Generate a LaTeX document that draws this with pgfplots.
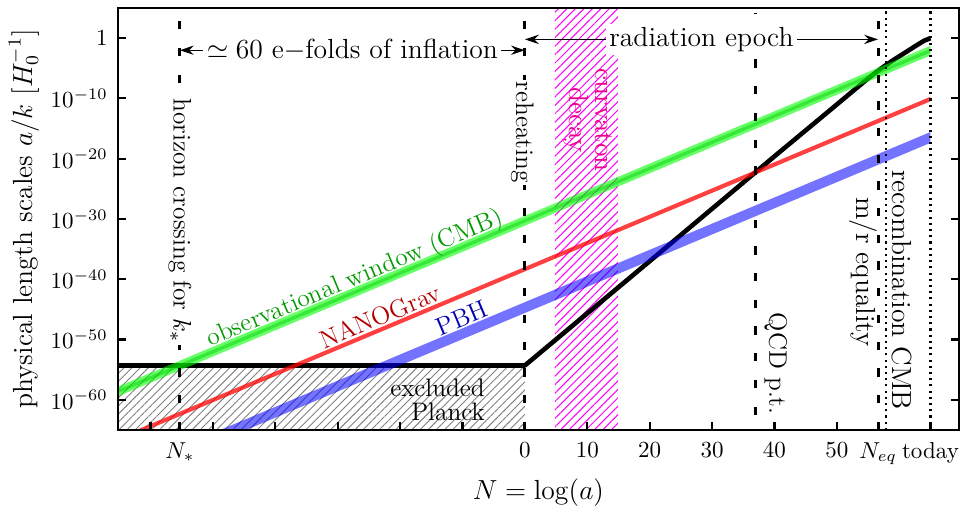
\documentclass[border=0pt]{standalone}
\usepackage{pgfplots}
\pgfplotsset{compat=1.18}
\usetikzlibrary{patterns,patterns.meta,arrows.meta}

% y values are log10 of a/k in units of 1/H0
\begin{document}
\begin{tikzpicture}
\begin{axis}[
  name=ax,
  scale only axis,
  width=365.3pt, height=183.3pt,
  xmin=-65.2, xmax=69.55,
  ymin=-65, ymax=5,
  axis on top,
  axis line style={line width=0.8pt},
  tick style={black, line width=0.9pt},
  major tick length=3.5pt,
  xtick pos=bottom, ytick pos=both,
  xtick={-60,-55.3,-50,-40,-30,-20,-10,0,10,20,30,40,50,56.6,65},
  xticklabels={,$N_*$,,,,,,$0$,$10$,$20$,$30$,$40$,$50$,$N_{eq}$,today},
  ytick={-60,-50,-40,-30,-20,-10,0},
  yticklabels={$10^{-60}$,$10^{-50}$,$10^{-40}$,$10^{-30}$,$10^{-20}$,$10^{-10}$,$1$},
  xticklabel style={yshift=-2pt},
  yticklabel style={xshift=-1pt},
  xlabel={$N=\log(a)$},
  ylabel={physical length scales $a/k$ [$H_0^{-1}$]},
  xlabel style={at={(axis description cs:0.5,-0.114)}, anchor=north, inner sep=0pt, font=\large},
  ylabel style={at={(axis description cs:-0.112,0.5)}, anchor=center, font=\large},
]

% excluded (Planck) and curvaton decay hatches
\addplot[draw=none, pattern={Lines[angle=45,distance=2.5pt,line width=0.4pt]}, pattern color=gray]
  coordinates {(-66,-66) (0,-66) (0,-54.3) (-66,-54.3)} -- cycle;
\addplot[draw=none, pattern={Lines[angle=45,distance=2.6pt,line width=0.45pt]}, pattern color=magenta]
  coordinates {(4.8,-66) (14.9,-66) (14.9,6) (4.8,6)} -- cycle;

% Hubble radius
\addplot[black, line width=2pt, line join=round] coordinates {
  (-66,-54.3) (0,-54.3) (20,-37.0) (40,-19.6) (50,-11.0) (53,-8.40)
  (55,-6.69) (57,-5.09) (59,-3.67) (61,-2.35) (63,-1.04) (64,-0.41) (65,0)};

% scales
\addplot[draw=none, fill=green, fill opacity=0.6]
  coordinates {(-66,-58.16) (65,-1.27) (65,-2.87) (-66,-59.76)} -- cycle;
\addplot[draw=none, fill=green!80!black, fill opacity=0.45]
  coordinates {(-66,-58.66) (65,-1.77) (65,-2.37) (-66,-59.26)} -- cycle;
\addplot[draw=none, fill=red, fill opacity=0.75]
  coordinates {(-66,-66.61) (65,-9.72) (65,-10.47) (-66,-67.36)} -- cycle;
\addplot[draw=none, fill=blue, fill opacity=0.55]
  coordinates {(-66,-72.46) (65,-15.57) (65,-17.37) (-66,-74.26)} -- cycle;

% events
\addplot[black, line width=1.3pt, dash pattern=on 3.6pt off 8pt] coordinates {(-55.3,-65) (-55.3,4.1)};
\addplot[black, line width=1.3pt, dash pattern=on 3.6pt off 8pt] coordinates {(0,-65) (0,5)};
\addplot[black, line width=1.3pt, dash pattern=on 3.6pt off 8pt] coordinates {(37,-62.5) (37,4.1)};
\addplot[black, line width=1.3pt, dash pattern=on 3.6pt off 8pt] coordinates {(56.6,-65) (56.6,4.1)};
\addplot[black, line width=0.9pt, dash pattern=on 0.9pt off 1.8pt] coordinates {(57.85,-65) (57.85,5)};
\addplot[black, line width=0.9pt, dash pattern=on 0.9pt off 1.8pt] coordinates {(65,-65) (65,5)};

\draw[line width=0.5pt, {Stealth[length=6pt,width=4pt]}-{Stealth[length=6pt,width=4pt]}]
  (axis cs:-55.3,-2) -- node[fill=white, inner sep=1.5pt, font=\large] {$\simeq 60$ e$-$folds of inflation} (axis cs:0,-2);
\draw[line width=0.5pt, {Stealth[length=6pt,width=4pt]}-{Stealth[length=6pt,width=4pt]}]
  (axis cs:0,-0.2) -- node[fill=white, inner sep=1.5pt, font=\large] {radiation epoch} (axis cs:56.6,-0.2);

\node[rotate=-90, fill=white, inner sep=1pt, font=\fontsize{11}{13}\selectfont] at (axis cs:-55.3,-30.3) {horizon crossing for $k_*$};
\node[rotate=-90, fill=white, inner sep=1pt, font=\fontsize{11}{13}\selectfont] at (axis cs:-0.4,-15.6) {reheating};
\node[rotate=-90, text=magenta, align=center, font=\fontsize{12}{11.5}\selectfont] at (axis cs:10.1,-13.6) {curvaton\\decay};
\node[rotate=-90, font=\fontsize{11}{13}\selectfont] at (axis cs:40.2,-54.0) {QCD p.t.};
\node[rotate=-90, font=\large] at (axis cs:54.2,-38.8) {m/r equality};
\node[rotate=-90, font=\large] at (axis cs:60.4,-41.8) {recombination CMB};
\node[align=right, font=\fontsize{11}{10.5}\selectfont] at (axis cs:-14,-60) {excluded\\Planck};

\node[rotate=22.8, text=green!60!black, font=\fontsize{11}{13}\selectfont] at (axis cs:-27.2,-39.95) {observational window (CMB)};
\node[rotate=22.8, text=red!70!black, font=\fontsize{11}{13}\selectfont] at (axis cs:-23.2,-46.1) {NANOGrav};
\node[rotate=22.8, text=blue!70!black, font=\fontsize{11}{13}\selectfont] at (axis cs:-10.1,-46.4) {PBH};
\end{axis}
\pgfresetboundingbox
\path[use as bounding box] ([xshift=-51.3pt,yshift=-33.9pt]ax.south west) rectangle ([xshift=0.5pt,yshift=3.5pt]ax.north east);
\end{tikzpicture}
\end{document}
